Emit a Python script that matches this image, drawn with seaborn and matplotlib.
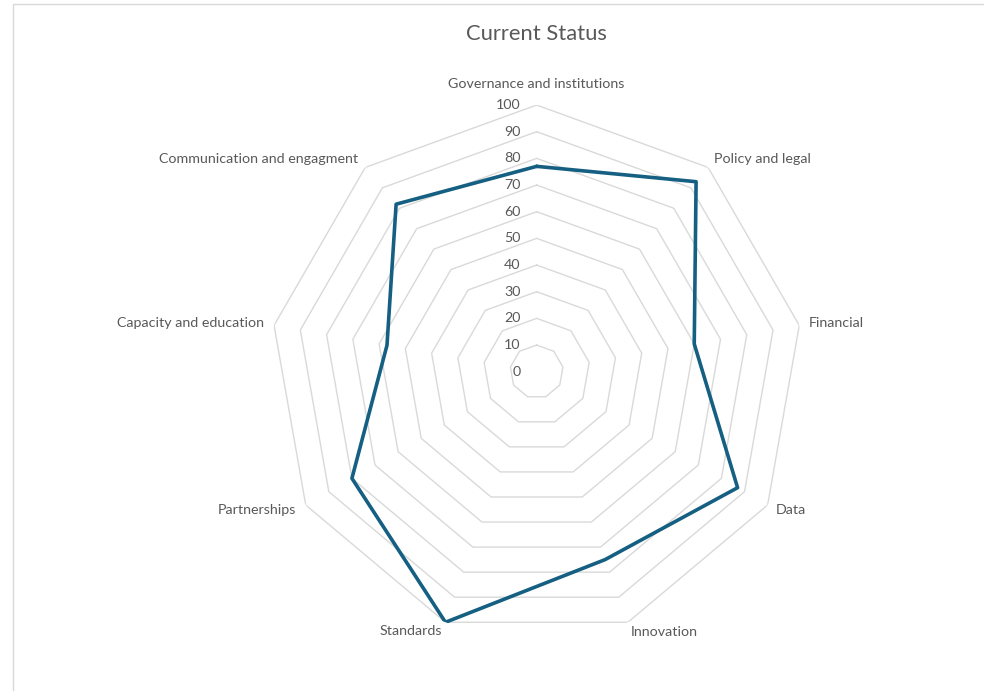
import numpy as np
import pandas as pd
import matplotlib
matplotlib.use("Agg")
import matplotlib.pyplot as plt
from matplotlib.patches import Rectangle
import seaborn as sns

categories = ["Governance and institutions", "Policy and legal", "Financial", "Data",
              "Innovation", "Standards", "Partnerships", "Capacity and education",
              "Communication and engagment"]
values = [77, 93, 60, 87, 75, 100, 80, 57, 82]
ring_levels = [0, 10, 20, 30, 40, 50, 60, 70, 80, 90, 100]
title = "Current Status"

sns.set_theme(style="white")
plt.rcParams['font.family'] = ['Lato', 'DejaVu Sans']

TXT = "#595959"
GRID = "#D9D9D9"
LINE = "#156082"

fig = plt.figure(figsize=(9.84, 6.91), dpi=100)
fig.patch.set_facecolor("white")
ax = fig.add_axes([0.2744, 0.0761, 0.542, 0.772], projection="polar")
ax.set_theta_zero_location("N")
ax.set_theta_direction(-1)
ax.set_ylim(0, 100)
ax.grid(False)
ax.spines["polar"].set_visible(False)
ax.set_xticks([])
ax.set_yticks([])
ax.set_facecolor("white")

n = len(categories)
theta = np.arange(n) * 2 * np.pi / n
theta_c = np.append(theta, theta[0])

# polygon gridlines
for r in ring_levels[1:]:
    ax.plot(theta_c, [r] * (n + 1), color=GRID, lw=1.0, zorder=1)

df = pd.DataFrame({"theta": theta_c, "value": values + [values[0]]})
sns.lineplot(data=df, x="theta", y="value", sort=False, ax=ax, color=LINE,
             lw=2.6, zorder=3, estimator=None)
ax.set_xlabel("")
ax.set_ylabel("")
ax.set_ylim(0, 100)

# radial value labels
for r in ring_levels:
    ax.annotate(str(r), xy=(0, r), xytext=(-16, 0), textcoords="offset pixels",
                ha="right", va="center", fontsize=10.3, color=TXT, zorder=4)

# category labels
offsets = [(0, 21, "center"), (6, 8, "left"), (9, 2, "left"), (8, -5, "left"),
           (3, -10, "left"), (-3, -9, "right"), (-10, -5, "right"),
           (-10, 2, "right"), (-7, 8, "right")]
for t, lab, (dx, dy, ha) in zip(theta, categories, offsets):
    ax.annotate(lab, xy=(t, 100), xytext=(dx, dy), textcoords="offset pixels",
                ha=ha, va="center", fontsize=10.3, color=TXT, annotation_clip=False)

fig.text(536 / 984, 1 - 34 / 691, title, ha="center", va="center",
         fontsize=15.8, color=TXT)

fig.patches.append(Rectangle((13 / 984, -0.1), 1.2, 1 - 4 / 691 + 0.1,
                             transform=fig.transFigure, fill=False,
                             edgecolor=GRID, lw=1.0))

fig.savefig("out.png", dpi=100, facecolor="white")
